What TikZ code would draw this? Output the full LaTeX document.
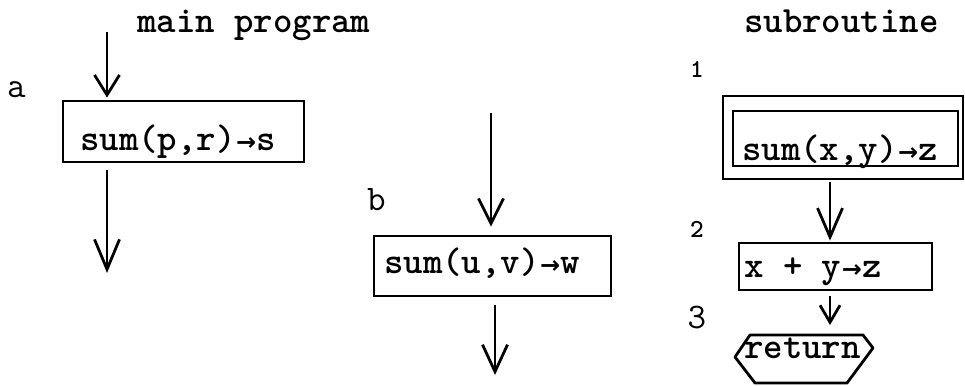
\documentclass[tikz,border=0pt]{standalone}
\usepackage{fontspec}
\newfontfamily\arrfont{DejaVu Sans}
\usetikzlibrary{arrows.meta}
\newcommand\tyarr{\kern0.5pt{\fontsize{24}{24}\selectfont\arrfont →}\kern0.5pt}
\tikzset{
  box/.style={draw, line width=2.8pt, rectangle, inner sep=0pt},
  lbl/.style={font=\fontsize{36}{36}\selectfont\ttfamily, inner sep=0pt, anchor=base},
  dig/.style={font=\fontsize{26}{26}\selectfont\ttfamily\bfseries, inner sep=0pt, anchor=base},
  txt/.style={font=\fontsize{37}{40}\selectfont\ttfamily\bfseries, inner sep=0pt, anchor=base west},
  arr/.style={line width=2.8pt, -{Straight Barb[length=#1,width=25pt]}},
  arr/.default=26pt,
}
\begin{document}
\begin{tikzpicture}[x=1pt,y=-1pt]
\useasboundingbox (0,0) rectangle (965,385);

% titles
\node[txt] (t1) at (137,33) {main program};
\node[txt] (t2) at (744,33) {subroutine};

% main program, part a
\node[lbl] (la) at (16.5,98) {a};
\node[box, minimum width=241pt, minimum height=61pt] (boxa) at (183.5,131.5) {};
\node[txt] (ta) at (80,150) {sum(p,r)\tyarr s};
\coordinate (ain) at (107,32);
\coordinate (aend) at (107,273);
\draw[arr=20pt, shorten >=2pt] (ain) -- (ain |- boxa.north);
\draw[arr=30pt] (aend |- boxa.south) ++(0,7) -- (aend);

% main program, part b
\node[lbl] (lb) at (376.5,210) {b};
\node[box, minimum width=237pt, minimum height=60pt] (boxb) at (492.5,266) {};
\node[txt] (tb) at (384,273) {sum(u,v)\tyarr w};
\coordinate (bin) at (491,113);
\coordinate (bend) at (495,375);
\draw[arr=25pt, shorten >=8pt] (bin) -- (bin |- boxb.north);
\draw[arr=27pt] (bend |- boxb.south) ++(0,8) -- (bend);

% subroutine
\node[dig] (l1) at (697,78) {1};
\node[dig] (l2) at (697,237) {2};
\node[lbl] (l3) at (697,328) {3};
\node[box, minimum width=240pt, minimum height=83pt] (outer) at (843,137.5) {};
\node[box, minimum width=225pt, minimum height=55pt] (inner) at (845.5,138.5) {};
\node[txt] (ts) at (742,160) {sum(x,y)\tyarr z};
\node[box, minimum width=193pt, minimum height=47pt] (box2) at (835.5,266.5) {};
\node[txt] (t2b) at (744,277) {x + y\tyarr z};
\draw[line width=2.8pt, line join=round] (735,357) -- (750,335) -- (863,335) -- (873,348) -- (847,383) -- (755,383) -- cycle;
\node[txt] (tr) at (744,358) {return};
\coordinate (s1) at (830,0);
\coordinate (s3) at (830,325);
\draw[arr=29pt, shorten >=1pt] (s1 |- outer.south) ++(0,2) -- (s1 |- box2.north);
\draw[line width=2.8pt, -{Straight Barb[length=17pt,width=20pt]}] (s3 |- box2.south) ++(0,5) -- (s3);
\end{tikzpicture}
\end{document}
